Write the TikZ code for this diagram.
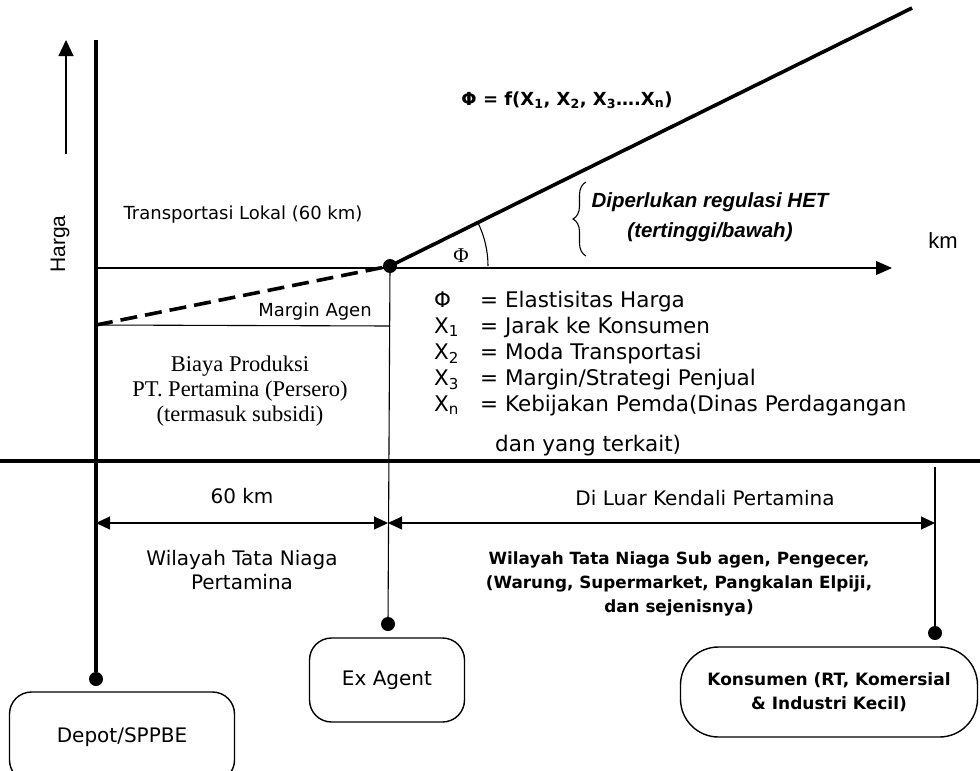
\documentclass[tikz,border=0pt]{standalone}
\usepackage{fontspec}
\usetikzlibrary{arrows.meta,positioning,calc,decorations.pathreplacing}
\newfontfamily\tah{DejaVu Sans}
\newfontfamily\arl{Liberation Sans}
\newfontfamily\tms{Liberation Serif}

\begin{document}
\begin{tikzpicture}[
  x=1pt, y=-1pt,
  heavy/.style={line width=3.6pt},
  thinln/.style={line width=1.1pt},
  dotmark/.style={circle, fill=black, inner sep=0pt, minimum size=14pt},
  place/.style={draw, line width=1.4pt, rounded corners=22pt, align=center,
                font=\tah\fontsize{20}{24}\selectfont},
  dimarr/.style={line width=1.1pt, {Triangle[length=14pt,width=13pt]}-{Triangle[length=14pt,width=13pt]}},
  lbl/.style={font=\tah\fontsize{18}{22}\selectfont, align=center, inner sep=0pt},
  lgd/.style={font=\tah\fontsize{21.5}{26}\selectfont, anchor=base west, inner sep=0pt},
]
\useasboundingbox (0,0) rectangle (980,771);

%% Price axis
\coordinate (axtop) at (96,40);
\node[dotmark] (depotdot) at (96,679) {};
\draw[heavy] (axtop) -- (depotdot);
\coordinate (hlow) at (66,154);
\coordinate (hup) at (66,40);
\draw[thinln, -{Triangle[length=16pt,width=15pt]}] (hlow) -- (hup);
\node[rotate=90, font=\arl\fontsize{21}{24}\selectfont] (harga) at (60,244) {Harga};

%% Distance axis
\coordinate (origin) at (96,268);
\coordinate (kmend) at (892,268);
\draw[thinln, -{Triangle[length=16pt,width=14pt]}] (origin) -- (kmend);
\node[font=\arl\fontsize{22}{26}\selectfont] (km) at (943,241) {km};

%% Agent point, elasticity line
\node[dotmark] (agdot) at (390,266) {};
\coordinate (phitop) at (912,8);
\draw[heavy] (agdot.center) -- (phitop);
\draw[thinln] ($(agdot.center)+(98,0)$) arc[start angle=0, end angle=-26.3, radius=98];
\node[font=\tms\fontsize{21}{24}\selectfont] (phi) at (461,256) {Φ};
\node[font=\tah\bfseries\fontsize{18}{22}\selectfont] (formula) at (567,100)
  {Φ = f(X\textsubscript{1}, X\textsubscript{2}, X\textsubscript{3}….X\textsubscript{n})};

%% HET regulation
\coordinate (brlow) at (586,256);
\coordinate (brup) at (586,182);
\draw[thinln, decorate, decoration={brace, amplitude=13pt}] (brlow) -- (brup);
\node[font=\arl\bfseries\itshape\fontsize{20.5}{30}\selectfont, align=center] (het) at (710,217)
  {Diperlukan regulasi HET\\(tertinggi/bawah)};

%% Margin and local transport
\coordinate (mstart) at (96,325);
\coordinate (mend) at (390,326);
\draw[heavy, dash pattern=on 17pt off 8pt] (mstart) -- (agdot.center);
\draw[thinln] (mstart) -- (mend);
\node[lbl] (transp) at (243,215) {Transportasi Lokal (60 km)};
\node[lbl] (margin) at (315,312) {Margin Agen};
\node[font=\tms\fontsize{22.5}{25}\selectfont, align=center] (biaya) at (240,391)
  {Biaya Produksi\\PT. Pertamina (Persero)\\(termasuk subsidi)};

%% Legend
\node[lgd] (lg0) at (434,307) {\makebox[46pt][l]{Φ}= Elastisitas Harga};
\node[lgd] (lg1) at (434,333) {\makebox[46pt][l]{X\textsubscript{1}}= Jarak ke Konsumen};
\node[lgd] (lg2) at (434,359) {\makebox[46pt][l]{X\textsubscript{2}}= Moda Transportasi};
\node[lgd] (lg3) at (434,385) {\makebox[46pt][l]{X\textsubscript{3}}= Margin/Strategi Penjual};
\node[lgd] (lg4) at (434,411) {\makebox[46pt][l]{X\textsubscript{n}}= Kebijakan Pemda(Dinas Perdagangan};
\node[lgd] (lg5) at (495,451) {dan yang terkait)};

%% Ex Agent drop line
\node[dotmark] (exdot) at (388,624) {};
\draw[thinln] (agdot.center) -- (exdot);

%% Separator
\coordinate (sepl) at (0,461);
\coordinate (sepr) at (980,461);
\draw[heavy] (sepl) -- (sepr);

%% Consumer drop line
\coordinate (kontop) at (935,467);
\node[dotmark] (kondot) at (935,633) {};
\draw[thinln] (kontop) -- (kondot);

%% Distance spans
\coordinate (d0) at (96,523);
\coordinate (d1) at (388,523);
\coordinate (d2) at (935,523);
\draw[dimarr] (d0) -- (d1);
\draw[dimarr] (d1) -- (d2);
\node[lbl, font=\tah\fontsize{20}{24}\selectfont] (sixty) at (242,496) {60 km};
\node[lbl, font=\tah\fontsize{20}{24}\selectfont] (luar) at (705,498) {Di Luar Kendali Pertamina};
\node[lbl, font=\tah\fontsize{20}{24}\selectfont] (wpert) at (242,570) {Wilayah Tata Niaga\\Pertamina};
\node[lbl, font=\tah\bfseries\fontsize{16.8}{24}\selectfont] (wsub) at (679,584)
  {Wilayah Tata Niaga Sub agen, Pengecer,\\(Warung, Supermarket, Pangkalan Elpiji,\\dan sejenisnya)};

%% Places
\node[place, minimum width=225pt, minimum height=90pt] (depot) at (122,737) {Depot/SPPBE};
\node[place, minimum width=155pt, minimum height=84pt] (exag) at (387,680) {Ex Agent};
\node[place, rounded corners=38pt, minimum width=297pt, minimum height=90pt,
      font=\tah\bfseries\fontsize{17}{24}\selectfont] (kons) at (829,692)
  {Konsumen (RT, Komersial\\\& Industri Kecil)};
\end{tikzpicture}
\end{document}
